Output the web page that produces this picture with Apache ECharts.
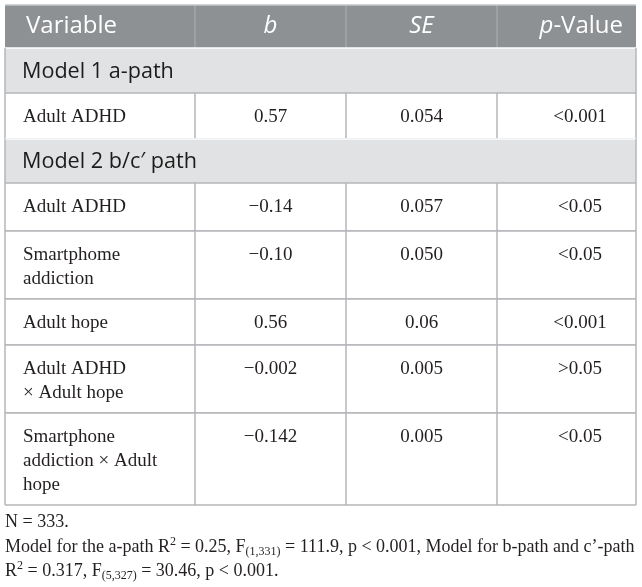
<!DOCTYPE html>
<html>
<head>
<meta charset="utf-8">
<script src="https://cdn.jsdelivr.net/npm/echarts@6/dist/echarts.min.js"></script>
<style>
html,body{margin:0;padding:0;background:#fff;}
#chart{width:642px;height:587px;}
</style>
</head>
<body>
<div id="chart"></div>
<script>
// ---- data ----
const headers = ['Variable', 'b', 'SE', 'p-Value'];
const sectionTitles = ['Model 1 a-path', 'Model 2 b/c\u2032 path'];
const variables = ['Adult ADHD', 'Adult ADHD', 'Smartphome\naddiction', 'Adult hope', 'Adult ADHD\n\u00d7 Adult hope', 'Smartphone\naddiction \u00d7 Adult\nhope'];
const bValues = ['0.57', '\u22120.14', '\u22120.10', '0.56', '\u22120.002', '\u22120.142'];
const seValues = ['0.054', '0.057', '0.050', '0.06', '0.005', '0.005'];
const pValues = ['<0.001', '<0.05', '<0.05', '<0.001', '>0.05', '<0.05'];
const rowSection = [0, 1, 1, 1, 1, 1];
const notes = [
  'N = 333.',
  'Model for the a-path R{sup|2} = 0.25, F{sub|(1,331)} = 111.9, p < 0.001, Model for b-path and c\u2019-path',
  'R{sup|2} = 0.317, F{sub|(5,327)} = 30.46, p < 0.001.'
];

// ---- layout (axis units = pixels inside grid) ----
const colEdges = [0, 190, 341, 492, 631];
const headerH = 43;
const bodyHByLines = {1: 46, 2: 68, 3: 92};
const firstLineOffset = 24, lineStep = 24;

// build display rows
const displayRows = [{kind: 'header'}];
let lastSection = -1;
variables.forEach((v, i) => {
  if (rowSection[i] !== lastSection) {
    displayRows.push({kind: 'section', s: rowSection[i]});
    lastSection = rowSection[i];
  }
  displayRows.push({kind: 'body', r: i});
});
const rowHeights = displayRows.map(d => {
  if (d.kind === 'header') return headerH;
  if (d.kind === 'section') return d.s === 0 ? 45 : 44;
  const n = variables[d.r].split('\n').length;
  return (n === 1 && d.r === 1) ? 48 : bodyHByLines[n];
});
const rowTops = [];
let acc = 0;
rowHeights.forEach(h => { rowTops.push(acc); acc += h; });
const totalH = acc;

const SANS = '"Open Sans", "Noto Sans", sans-serif';
const SERIF = '"Liberation Serif", "DejaVu Serif", serif';
const borderC = '#b3b6b8';

function renderItem(params, api) {
  const idx = api.value(0);
  const d = displayRows[idx];
  const y0 = rowTops[idx], y1 = y0 + rowHeights[idx];
  const pt = (x, y) => api.coord([x, y]);
  const tl = pt(0, y0), br = pt(colEdges[4], y1);
  const children = [];
  const line = (xa, ya, xb, yb, color, w) => {
    const a = pt(xa, ya), b = pt(xb, yb);
    children.push({type: 'line', shape: {x1: a[0], y1: a[1], x2: b[0], y2: b[1]}, style: {stroke: color, lineWidth: w || 1.5}});
  };
  const colCenter = c => pt((colEdges[c] + colEdges[c + 1]) / 2, 0)[0];
  if (d.kind === 'header') {
    children.push({type: 'rect', shape: {x: tl[0], y: tl[1], width: br[0] - tl[0], height: br[1] - tl[1]}, style: {fill: '#8e9193'}});
    for (let c = 1; c < 4; c++) line(colEdges[c], y0, colEdges[c], y1, '#a4a6a8', 1.5);
    line(0, y0, colEdges[4], y0, '#c3c6c7', 1.5);
    const my = (tl[1] + br[1]) / 2;
    const base = {fill: '#ffffff', fontSize: 24, fontFamily: SANS, verticalAlign: 'middle'};
    children.push({type: 'text', style: Object.assign({}, base, {text: headers[0], x: tl[0] + 21, y: my, align: 'left'})});
    children.push({type: 'text', style: Object.assign({}, base, {text: headers[1], x: colCenter(1), y: my, align: 'center', fontStyle: 'italic'})});
    children.push({type: 'text', style: Object.assign({}, base, {text: headers[2], x: colCenter(2), y: my, align: 'center', fontStyle: 'italic'})});
    const pv = headers[3];
    children.push({type: 'text', style: Object.assign({}, base, {
      text: '{i|' + pv.charAt(0) + '}' + pv.slice(1), x: br[0] - 13, y: my, align: 'right',
      rich: {i: {fontStyle: 'italic', fontSize: 24, fontFamily: SANS, fill: '#ffffff'}}
    })});
  } else if (d.kind === 'section') {
    children.push({type: 'rect', shape: {x: tl[0], y: tl[1], width: br[0] - tl[0], height: br[1] - tl[1]}, style: {fill: '#e1e2e3'}});
    line(0, y0, colEdges[4], y0, '#ffffff', 1.5);
    line(0, y0, 0, y1, borderC, 1.5);
    line(colEdges[4], y0, colEdges[4], y1, borderC, 1.5);
    children.push({type: 'text', style: {text: sectionTitles[d.s], x: tl[0] + 17, y: (tl[1] + br[1]) / 2 + 1, align: 'left', verticalAlign: 'middle', fontSize: 21.6, fontFamily: SANS, fill: '#1c1c1c'}});
  } else {
    children.push({type: 'rect', shape: {x: tl[0], y: tl[1], width: br[0] - tl[0], height: br[1] - tl[1]}, style: {fill: '#ffffff'}});
    line(0, y0, colEdges[4], y0, borderC, 1.5);
    line(0, y1, colEdges[4], y1, borderC, 1.5);
    for (let c = 0; c < 5; c++) line(colEdges[c], y0, colEdges[c], y1, borderC, 1.5);
    const base = {fill: '#231f20', fontSize: 19, fontFamily: SERIF, verticalAlign: 'middle'};
    const r = d.r;
    variables[r].split('\n').forEach((t, k) => {
      children.push({type: 'text', style: Object.assign({}, base, {text: t, x: tl[0] + 18, y: tl[1] + firstLineOffset + k * lineStep, align: 'left'})});
    });
    const fy = tl[1] + firstLineOffset;
    children.push({type: 'text', style: Object.assign({}, base, {text: bValues[r], x: colCenter(1), y: fy, align: 'center'})});
    children.push({type: 'text', style: Object.assign({}, base, {text: seValues[r], x: colCenter(2), y: fy, align: 'center'})});
    children.push({type: 'text', style: Object.assign({}, base, {text: pValues[r], x: pt(575, 0)[0], y: fy, align: 'center'})});
  }
  return {type: 'group', children: children};
}

const chart = echarts.init(document.getElementById('chart'), null, {renderer: 'canvas'});
const noteFont = {fontSize: 18, fontFamily: SERIF, fill: '#231f20'};
chart.setOption({
  animation: false,
  backgroundColor: '#ffffff',
  grid: {left: 5, top: 5, width: 631, height: totalH},
  xAxis: {type: 'value', min: 0, max: colEdges[4], show: false},
  yAxis: {type: 'value', min: 0, max: totalH, inverse: true, show: false},
  series: [{
    type: 'custom',
    renderItem: renderItem,
    data: displayRows.map((d, i) => [i]),
    clip: false
  }],
  graphic: notes.map((t, i) => ({
    type: 'text',
    left: 5,
    top: [511, 536, 560][i],
    style: Object.assign({}, noteFont, {
      text: t,
      lineHeight: 22,
      rich: {
        sup: {fontSize: 12, fontFamily: SERIF, fill: '#231f20', verticalAlign: 'top', lineHeight: 22},
        sub: {fontSize: 12, fontFamily: SERIF, fill: '#231f20', verticalAlign: 'bottom', lineHeight: 22}
      }
    })
  }))
});
</script>
</body>
</html>
